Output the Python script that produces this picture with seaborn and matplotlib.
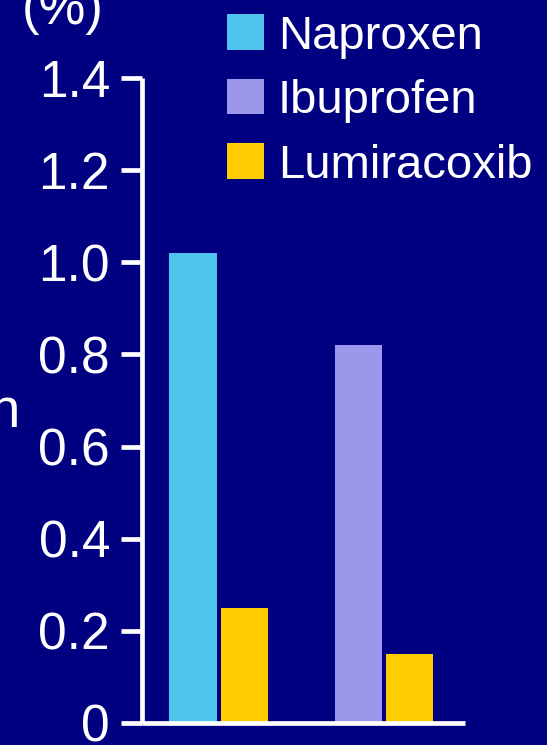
import matplotlib
matplotlib.use("Agg")
import matplotlib.pyplot as plt
from matplotlib.patches import Patch
import seaborn as sns
import pandas as pd

# Data: two comparison groups, each with the comparator NSAID and lumiracoxib
groups = ["Naproxen substudy", "Naproxen substudy", "Ibuprofen substudy", "Ibuprofen substudy"]
slots = ["Comparator", "Lumiracoxib", "Comparator", "Lumiracoxib"]
drugs = ["Naproxen", "Lumiracoxib", "Ibuprofen", "Lumiracoxib"]
values = [1.02, 0.25, 0.82, 0.15]

legend_labels = ["Naproxen", "Ibuprofen", "Lumiracoxib"]
drug_colors = {"Naproxen": "#4EC3EC", "Ibuprofen": "#9D97EB", "Lumiracoxib": "#FFCC00"}
y_ticks = [0, 0.2, 0.4, 0.6, 0.8, 1.0, 1.2, 1.4]
y_tick_labels = ["0", "0.2", "0.4", "0.6", "0.8", "1.0", "1.2", "1.4"]

bg = "#000080"
sns.set_theme(style="white")
plt.rcParams["font.family"] = ["Liberation Sans", "DejaVu Sans"]

df = pd.DataFrame({"group": groups, "slot": slots, "drug": drugs, "value": values})

fig = plt.figure(figsize=(5.47, 7.45), dpi=100, facecolor=bg)
ax = fig.add_axes([142 / 547, 22 / 745, (465 - 142) / 547, (723 - 78) / 745])
ax.set_facecolor(bg)

sns.barplot(data=df, x="group", y="value", hue="slot", dodge=True,
            width=0.62, gap=0.07, ax=ax, legend=False, errorbar=None,
            saturation=1, edgecolor="none")

# colour each bar by its drug
bars = [p for p in ax.patches if p.get_height() > 0]
bars.sort(key=lambda p: p.get_x())
for bar, drug in zip(bars, drugs):
    bar.set_facecolor(drug_colors[drug])

ax.set_xlim(-0.465, 1.49)
ax.set_ylim(0, 1.4)
ax.set_yticks(y_ticks)
ax.set_yticklabels(y_tick_labels)
ax.set_xticks([])
ax.set_xlabel("")
ax.set_ylabel("")

for side in ["top", "right"]:
    ax.spines[side].set_visible(False)
for side in ["left", "bottom"]:
    ax.spines[side].set_color("white")
    ax.spines[side].set_linewidth(3.4)
    ax.spines[side].set_capstyle("butt")

ax.tick_params(axis="y", colors="white", labelcolor="white", labelsize=37,
               length=15, width=3.4, pad=8, left=True, direction="out")

handles = [Patch(facecolor=drug_colors[d], edgecolor="none") for d in legend_labels]
fig.legend(handles, legend_labels, loc="upper left",
           bbox_to_anchor=(222 / 547, 0.987), frameon=False,
           fontsize=34, labelcolor="white", handlelength=0.78, handleheight=0.78,
           handletextpad=0.3, labelspacing=0.43, borderpad=0.1, borderaxespad=0)

fig.text(63 / 547, (745 - 24) / 745, "(%)", color="white", fontsize=38,
         ha="center", va="baseline")
fig.text(21 / 547, (745 - 427) / 745, "Complication", color="white",
         fontsize=40, ha="right", va="baseline")

fig.savefig("out.png", dpi=100, facecolor=bg)
